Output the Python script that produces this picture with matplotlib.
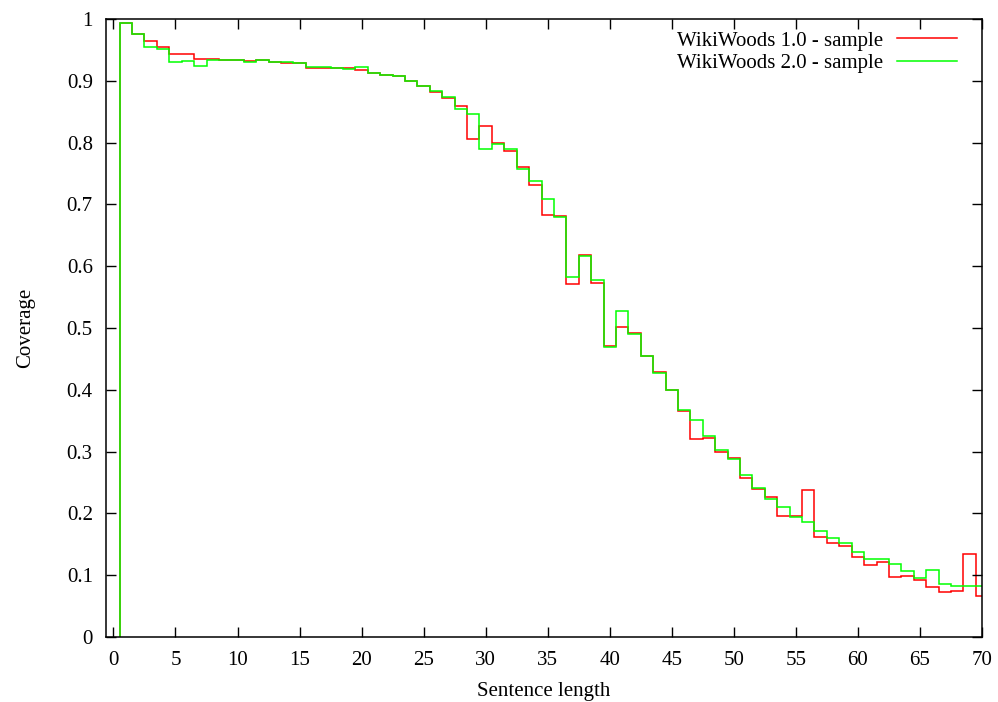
import numpy as np
import matplotlib
matplotlib.use('Agg')
import matplotlib.pyplot as plt

# sentence length buckets, one coverage value per length
lengths = np.arange(1, 71)

coverage_v1 = [
    0.994, 0.976, 0.964, 0.954, 0.944, 0.943, 0.936, 0.935, 0.934, 0.933,
    0.932, 0.934, 0.930, 0.929, 0.928, 0.920, 0.920, 0.920, 0.920, 0.917,
    0.913, 0.910, 0.907, 0.900, 0.892, 0.882, 0.872, 0.860, 0.806, 0.827,
    0.800, 0.787, 0.760, 0.731, 0.683, 0.681, 0.572, 0.618, 0.573, 0.471,
    0.501, 0.492, 0.455, 0.429, 0.400, 0.366, 0.320, 0.322, 0.300, 0.289,
    0.258, 0.239, 0.227, 0.196, 0.196, 0.238, 0.162, 0.152, 0.147, 0.130,
    0.117, 0.122, 0.097, 0.099, 0.092, 0.081, 0.073, 0.075, 0.134, 0.067,
]

coverage_v2 = [
    0.994, 0.976, 0.955, 0.952, 0.931, 0.932, 0.924, 0.933, 0.933, 0.933,
    0.931, 0.934, 0.931, 0.930, 0.928, 0.922, 0.922, 0.920, 0.919, 0.923,
    0.913, 0.910, 0.907, 0.899, 0.892, 0.883, 0.873, 0.855, 0.847, 0.789,
    0.798, 0.790, 0.757, 0.738, 0.709, 0.679, 0.582, 0.617, 0.578, 0.469,
    0.528, 0.491, 0.455, 0.427, 0.400, 0.367, 0.351, 0.325, 0.303, 0.288,
    0.262, 0.241, 0.224, 0.210, 0.194, 0.186, 0.172, 0.161, 0.152, 0.137,
    0.126, 0.127, 0.118, 0.107, 0.095, 0.108, 0.086, 0.083, 0.083, 0.082,
]

labels = ['WikiWoods 1.0 - sample', 'WikiWoods 2.0 - sample']

plt.rcParams['font.family'] = ['Liberation Serif', 'DejaVu Serif']
plt.rcParams['font.size'] = 15

fig = plt.figure(figsize=(9.98, 7.02), dpi=100)
ax = fig.add_axes([106 / 998, 65 / 702, 876 / 998, 618 / 702])

edges = np.append(lengths - 0.5, lengths[-1] + 0.5)
ax.stairs(coverage_v1, edges, baseline=0, color='#ff0000', lw=1.1, label=labels[0])
ax.stairs(coverage_v2, edges, baseline=0, color='#00ff00', lw=1.1, label=labels[1])

ax.set_xlim(-0.6, 70)
ax.set_ylim(0, 1)
ax.set_xticks(np.arange(0, 71, 5))
ax.set_yticks(np.arange(0, 1.01, 0.1))
ax.yaxis.set_major_formatter(matplotlib.ticker.FormatStrFormatter('%g'))
ax.tick_params(direction='in', length=7, width=1, top=True, right=True)
ax.tick_params(axis='x', pad=10)
ax.tick_params(axis='y', pad=9.5)
for s in ax.spines.values():
    s.set_linewidth(1.1)

ax.set_xlabel('Sentence length', labelpad=8.5)
ax.set_ylabel('Coverage', labelpad=23)

ax.legend(loc='upper right', bbox_to_anchor=(0.9715, 0.9806), frameon=False,
          markerfirst=False, handlelength=2.88, handletextpad=0.67,
          labelspacing=0.15, borderpad=0, borderaxespad=0)

fig.savefig('out.png', dpi=100)
